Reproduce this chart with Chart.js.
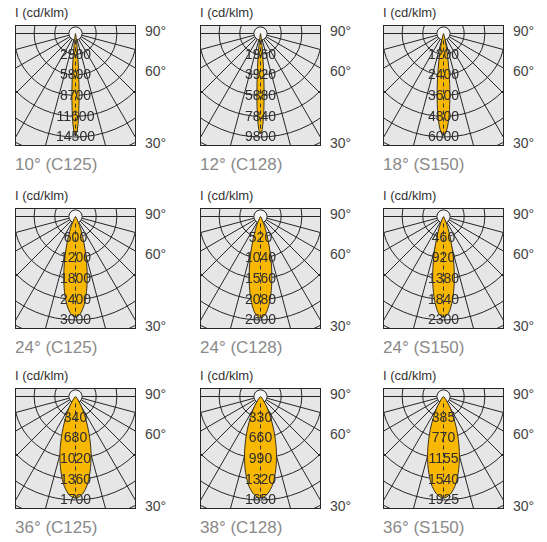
<!DOCTYPE html>
<html><head><meta charset="utf-8">
<script src="https://cdn.jsdelivr.net/npm/chart.js@4/dist/chart.umd.min.js"></script>
<style>
html,body{margin:0;padding:0;background:#fff;width:547px;height:542px;overflow:hidden;}
.t{position:absolute;white-space:nowrap;font-family:"Liberation Sans",Arial,sans-serif;}
.unit{font-size:13px;line-height:16px;color:#333;}
.deg{font-size:14px;line-height:16px;color:#444;}
.cap{font-size:17px;line-height:20px;color:#8a8a8a;}
canvas{position:absolute;}
</style></head><body>
<script>
// ---- data ----
const unitLabel = "I (cd/klm)";
const angleLabels = ["90°", "60°", "30°"];
const captions = ["10° (C125)", "12° (C128)", "18° (S150)",
                  "24° (C125)", "24° (C128)", "24° (S150)",
                  "36° (C125)", "38° (C128)", "36° (S150)"];

const ticks10C125 = [2900, 5800, 8700, 11600, 14500];
const ticks12C128 = [1960, 3920, 5880, 7840, 9800];
const ticks18S150 = [1200, 2400, 3600, 4800, 6000];
const ticks24C125 = [600, 1200, 1800, 2400, 3000];
const ticks24C128 = [520, 1040, 1560, 2080, 2600];
const ticks24S150 = [460, 920, 1380, 1840, 2300];
const ticks36C125 = [340, 680, 1020, 1360, 1700];
const ticks38C128 = [330, 660, 990, 1320, 1650];
const ticks36S150 = [385, 770, 1155, 1540, 1925];

// polar angles (deg from nadir) and intensities (cd/klm)
const anglesNarrow = [0, 1, 2, 3, 4, 5, 6, 7, 8, 10, 12];
const cd10C125 = [14300, 13660, 11910, 9480, 6890, 4580, 2770, 1530, 770, 150, 20];
const cd12C128 = [9500, 9100, 7990, 6430, 4750, 3220, 2000, 1140, 590, 120, 20];
const anglesMid = [0, 2, 4, 6, 8, 10, 12, 14, 16, 18, 21];
const cd18S150 = [5900, 5580, 4700, 3550, 2390, 1430, 770, 370, 160, 60, 10];
const anglesMedium = [0, 3, 6, 9, 12, 15, 18, 21, 24, 30, 36, 42];
const cd24C125 = [2920, 2810, 2520, 2100, 1620, 1160, 770, 480, 280, 70, 15, 0];
const cd24C128 = [2550, 2450, 2170, 1780, 1350, 940, 610, 360, 200, 47, 8, 0];
const cd24S150 = [2240, 2150, 1880, 1520, 1120, 760, 470, 270, 140, 29, 4, 0];
const anglesWide = [0, 4, 8, 12, 16, 20, 24, 28, 32, 40, 48, 54];
const cd36C125 = [1670, 1610, 1440, 1190, 920, 650, 430, 270, 150, 39, 8, 2];
const cd38C128 = [1620, 1560, 1410, 1180, 920, 670, 450, 290, 170, 47, 10, 3];
const cd36S150 = [1890, 1820, 1640, 1370, 1070, 780, 530, 330, 200, 55, 12, 3];

const panels = [
  {angles: anglesNarrow, cd: cd10C125, ticks: ticks10C125},
  {angles: anglesNarrow, cd: cd12C128, ticks: ticks12C128},
  {angles: anglesMid,    cd: cd18S150, ticks: ticks18S150},
  {angles: anglesMedium, cd: cd24C125, ticks: ticks24C125},
  {angles: anglesMedium, cd: cd24C128, ticks: ticks24C128},
  {angles: anglesMedium, cd: cd24S150, ticks: ticks24S150},
  {angles: anglesWide,   cd: cd36C125, ticks: ticks36C125},
  {angles: anglesWide,   cd: cd38C128, ticks: ticks38C128},
  {angles: anglesWide,   cd: cd36S150, ticks: ticks36S150}
];

// ---- layout ----
const colLeft = [15, 200, 383];
const rowTop = [25, 208, 388];
const SIZE = 121, RING_PX = 20.7, CENTER_Y = 8.5, CENTER_X = 60.5;

const gridPlugin = {
  id: 'polarGrid',
  beforeDatasetsDraw(chart, args, o) {
    const {ctx, chartArea: a, scales: {x, y}} = chart;
    const cx = x.getPixelForValue(0), cy = y.getPixelForValue(0);
    const rpx = v => Math.abs(x.getPixelForValue(v) - cx);
    ctx.save();
    ctx.beginPath(); ctx.rect(a.left, a.top, a.right - a.left, a.bottom - a.top); ctx.clip();
    ctx.fillStyle = '#e6e6e6';
    ctx.fillRect(a.left, a.top, a.right - a.left, a.bottom - a.top);
    ctx.strokeStyle = '#262626'; ctx.lineWidth = 1;
    for (let k = 1; k <= 6; k++) {
      ctx.beginPath(); ctx.arc(cx, cy, rpx(k * o.step), 0, Math.PI * 2); ctx.stroke();
    }
    const r0 = rpx(o.step * 0.32);
    [15, 30, 45, 60, 75, 90].forEach(d => {
      [-1, 1].forEach(s => {
        const t = d * Math.PI / 180;
        ctx.beginPath();
        ctx.moveTo(cx + s * r0 * Math.sin(t), cy + r0 * Math.cos(t));
        ctx.lineTo(cx + s * 400 * Math.sin(t), cy + 400 * Math.cos(t));
        ctx.stroke();
      });
    });
    ctx.beginPath(); ctx.arc(cx, cy, r0, 0, Math.PI * 2);
    ctx.fillStyle = '#f4f4f4'; ctx.fill(); ctx.stroke();
    ctx.restore();
  },
  afterDatasetsDraw(chart, args, o) {
    const {ctx, chartArea: a, scales: {x, y}} = chart;
    const cx = x.getPixelForValue(0), cy = y.getPixelForValue(0);
    ctx.save();
    ctx.strokeStyle = '#333'; ctx.lineWidth = 1; ctx.setLineDash([4, 3]);
    ctx.beginPath(); ctx.moveTo(cx, cy + 7); ctx.lineTo(cx, y.getPixelForValue(-o.max)); ctx.stroke();
    ctx.setLineDash([]);
    ctx.fillStyle = '#2e2e2e';
    ctx.font = '14px "Liberation Sans", Arial, sans-serif';
    ctx.textAlign = 'center'; ctx.textBaseline = 'middle';
    o.ticks.forEach((t, i) => ctx.fillText(String(t), cx, y.getPixelForValue(-(i + 1) * o.step) + 0.5));
    ctx.strokeStyle = '#262626';
    ctx.strokeRect(a.left + 0.5, a.top + 0.5, a.right - a.left - 1, a.bottom - a.top - 1);
    ctx.restore();
  }
};

function addText(cls, txt, left, top) {
  const d = document.createElement('div');
  d.className = 't ' + cls; d.textContent = txt;
  d.style.left = left + 'px'; d.style.top = top + 'px';
  document.body.appendChild(d);
}

panels.forEach((p, i) => {
  const L = colLeft[i % 3], T = rowTop[Math.floor(i / 3)];
  addText('unit', unitLabel, L, T - 20);
  addText('deg', angleLabels[0], L + 130, T - 2);
  addText('deg', angleLabels[1], L + 130, T + 38);
  addText('deg', angleLabels[2], L + 130, T + 110);
  addText('cap', captions[i], L, T + 130);

  const cv = document.createElement('canvas');
  cv.width = SIZE; cv.height = SIZE;
  cv.style.left = L + 'px'; cv.style.top = T + 'px';
  cv.style.width = SIZE + 'px'; cv.style.height = SIZE + 'px';
  document.body.appendChild(cv);

  const step = p.ticks[0];
  const u = step / RING_PX; // value per pixel
  const pts = [{x: 0, y: 0}];
  for (let j = p.angles.length - 1; j >= 0; j--) {
    const t = p.angles[j] * Math.PI / 180;
    pts.push({x: -p.cd[j] * Math.sin(t), y: -p.cd[j] * Math.cos(t)});
  }
  for (let j = 1; j < p.angles.length; j++) {
    const t = p.angles[j] * Math.PI / 180;
    pts.push({x: p.cd[j] * Math.sin(t), y: -p.cd[j] * Math.cos(t)});
  }
  pts.push({x: 0, y: 0});

  new Chart(cv, {
    type: 'scatter',
    data: {datasets: [{
      data: pts, showLine: true, fill: 'shape',
      backgroundColor: '#f8b700', borderColor: '#3b3220', borderWidth: 1,
      pointRadius: 0, tension: 0.3
    }]},
    options: {
      responsive: false, animation: false, devicePixelRatio: 1,
      layout: {padding: 0},
      plugins: {legend: {display: false}, tooltip: {enabled: false},
        polarGrid: {step: step, ticks: p.ticks, max: p.cd[0]}},
      scales: {
        x: {type: 'linear', display: false, min: -CENTER_X * u, max: (SIZE - CENTER_X) * u},
        y: {type: 'linear', display: false, min: -(SIZE - CENTER_Y) * u, max: CENTER_Y * u}
      }
    },
    plugins: [gridPlugin]
  });
});
</script>
</body></html>
